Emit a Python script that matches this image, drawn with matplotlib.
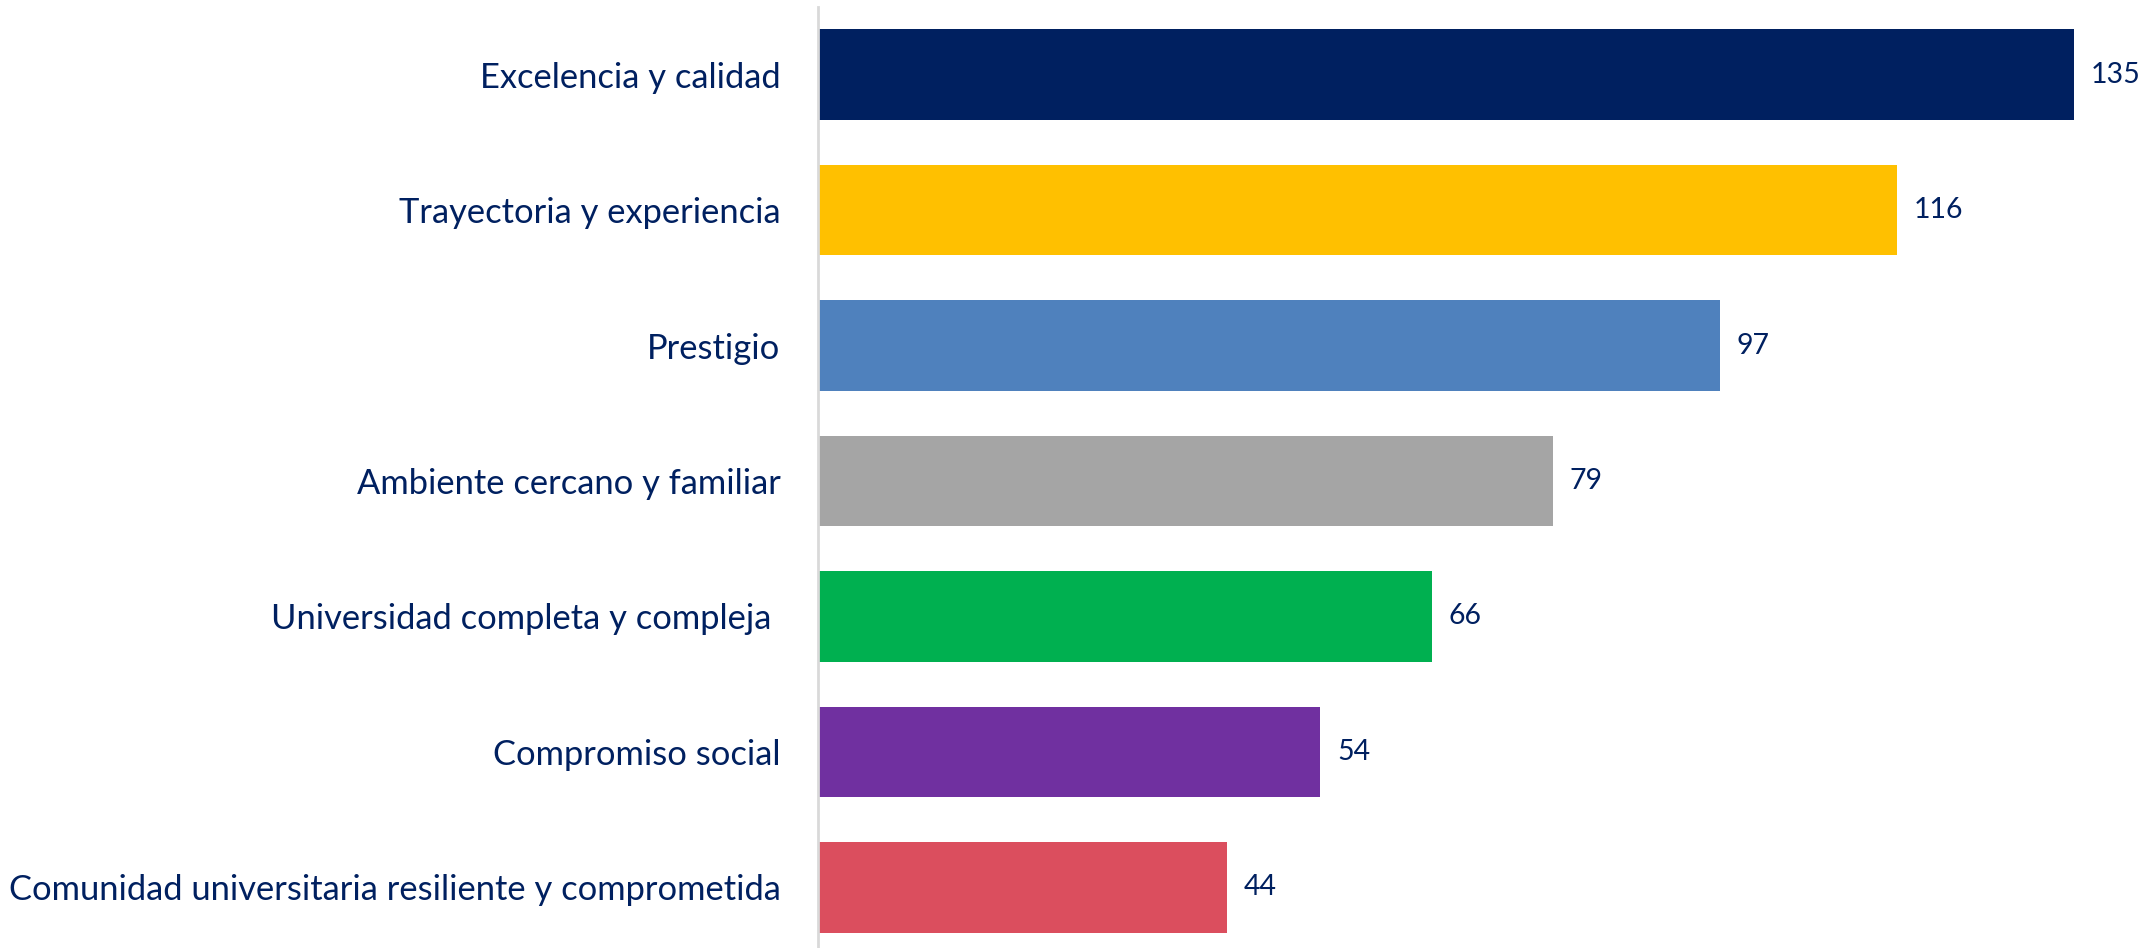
import matplotlib
matplotlib.use("Agg")
import matplotlib.pyplot as plt

categories = [
    "Excelencia y calidad",
    "Trayectoria y experiencia",
    "Prestigio",
    "Ambiente cercano y familiar",
    "Universidad completa y compleja ",
    "Compromiso social",
    "Comunidad universitaria resiliente y comprometida",
]
values = [135, 116, 97, 79, 66, 54, 44]
colors = ["#002060", "#FFC000", "#4F81BD", "#A5A5A5", "#00B050", "#7030A0", "#DB4E5E"]

W, H = 2154, 948
fig = plt.figure(figsize=(W / 100, H / 100), dpi=100)
left = 818 / W
top = 7 / H
bottom = -7 / H
ax = fig.add_axes([left, bottom, 1 - left, 1 - top - bottom])

text_color = "#002060"
font = "Lato"
pos = list(range(len(categories)))
ax.barh(pos, values, height=0.668, color=colors)
ax.set_ylim(len(categories) - 0.5, -0.5)
ax.set_xlim(0, 1336 / 9.30)
for p, v in zip(pos, values):
    ax.text(v + 1.8, p, str(v), va="center", ha="left", fontsize=20.5, color=text_color, family=font)

ax.set_yticks(pos)
ax.set_yticklabels(categories, fontsize=24.8, color=text_color, family=font)
ax.tick_params(axis="y", length=0, pad=27)
ax.set_xticks([])
for s in ["top", "right", "bottom"]:
    ax.spines[s].set_visible(False)
ax.spines["left"].set_color("#D9D9D9")
ax.spines["left"].set_linewidth(2)

fig.savefig("out.png", dpi=100)
